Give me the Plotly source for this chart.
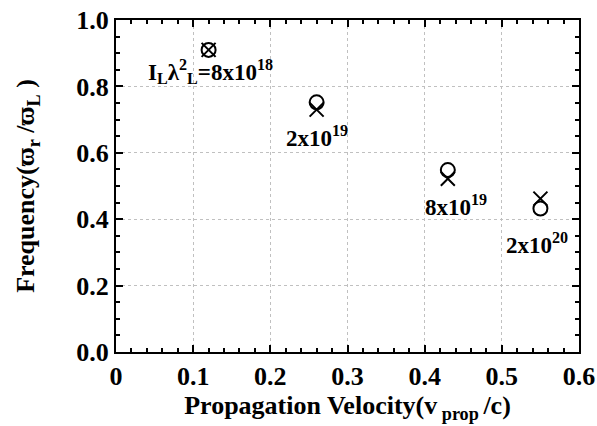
import plotly.graph_objects as go

velocity = [0.12, 0.26, 0.43, 0.55]
freq_circle = [0.91, 0.752, 0.548, 0.432]
freq_cross = [0.91, 0.73, 0.522, 0.462]
labels = ["I<sub>L</sub>λ<sup>2</sup><sub>L</sub>=8x10<sup>18</sup>",
          "2x10<sup>19</sup>", "8x10<sup>19</sup>", "2x10<sup>20</sup>"]

FONT = "Liberation Serif"

fig = go.Figure()
fig.add_trace(go.Scatter(x=velocity, y=freq_circle, mode="markers",
                         marker=dict(symbol="circle-open", size=14, color="black",
                                     line=dict(width=2, color="black")),
                         showlegend=False))
fig.add_trace(go.Scatter(x=velocity, y=freq_cross, mode="markers",
                         marker=dict(symbol="x-thin-open", size=14, color="black",
                                     line=dict(width=2, color="black")),
                         showlegend=False))

yshifts = [-22, -34, -35, -35]
xshifts = [2, 0, 8, -3]
for x, y, t, ys, xs in zip(velocity, freq_circle, labels, yshifts, xshifts):
    fig.add_annotation(x=x, y=y, text="<b>" + t + "</b>", showarrow=False,
                       yshift=ys, xshift=xs, font=dict(family=FONT, size=23, color="black"))

axis_common = dict(showline=True, linecolor="black", linewidth=2, mirror="ticks",
                   ticks="inside", ticklen=7, tickwidth=2, tickcolor="black",
                   showgrid=True, gridcolor="#c0c0c0", griddash="dot", gridwidth=1,
                   zeroline=False, automargin=False,
                   tickfont=dict(family=FONT, size=26, color="black"))

fig.update_xaxes(range=[0, 0.6], tickvals=[0, 0.1, 0.2, 0.3, 0.4, 0.5, 0.6],
                 ticktext=["<b>0</b>", "<b>0.1</b>", "<b>0.2</b>", "<b>0.3</b>", "<b>0.4</b>", "<b>0.5</b>", "<b>0.6</b>"],
                 minor=dict(ticks="inside", dtick=0.02, ticklen=4, tickwidth=1.5, tickcolor="black", showgrid=False),
                 title=dict(text="<b>Propagation Velocity(v<sub> prop </sub>/c)</b>",
                            font=dict(family=FONT, size=26, color="black"), standoff=2),
                 **axis_common)
fig.update_yaxes(range=[0, 1.0], tickvals=[0, 0.2, 0.4, 0.6, 0.8, 1.0],
                 ticktext=["<b>0.0</b>", "<b>0.2</b>", "<b>0.4</b>", "<b>0.6</b>", "<b>0.8</b>", "<b>1.0</b>"],
                 minor=dict(ticks="inside", dtick=0.05, ticklen=4, tickwidth=1.5, tickcolor="black", showgrid=False),
                 title=dict(text="<b>Frequency(ϖ<sub>r</sub> /ϖ<sub>L</sub> )</b>",
                            font=dict(family=FONT, size=26, color="black"), standoff=34),
                 **axis_common)

fig.update_layout(width=597, height=426, margin=dict(l=116, r=18, t=20, b=74),
                  plot_bgcolor="white", paper_bgcolor="white")

fig.write_html("out.html")
